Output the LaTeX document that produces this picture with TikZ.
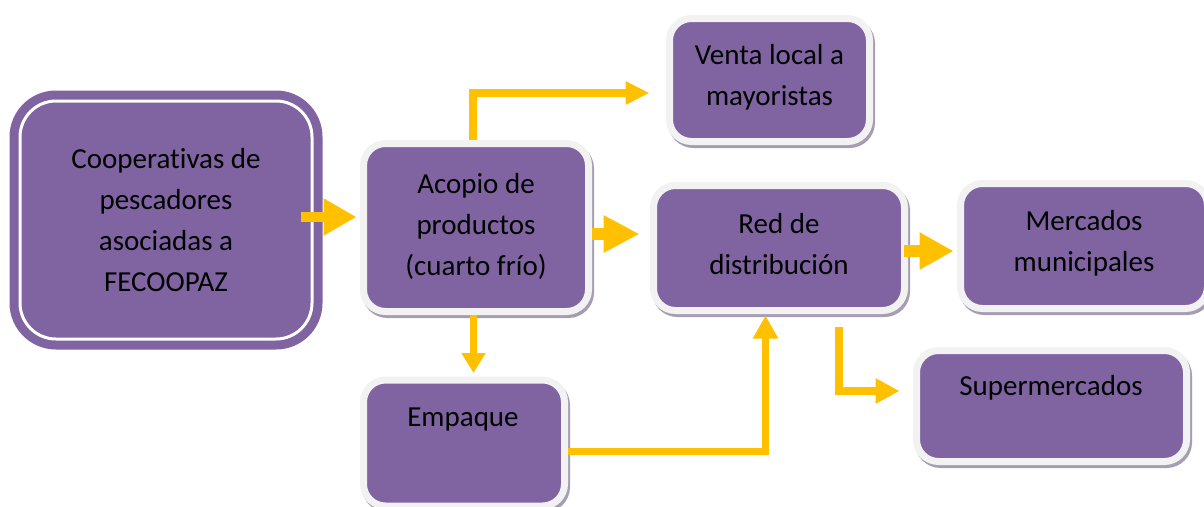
\documentclass[tikz,border=0pt]{standalone}
\usepackage{fontspec}
\setmainfont{Carlito}[Ligatures={NoCommon}]
\usetikzlibrary{arrows.meta,shadows}
\definecolor{boxpurple}{HTML}{8064A2}
\definecolor{ringgray}{HTML}{F2F2F2}
\definecolor{shadowc}{HTML}{A69DB3}
\definecolor{arrowyel}{HTML}{FFC000}
\tikzset{
  box/.style={fill=boxpurple, draw=ringgray, line width=7pt, rounded corners=22pt,
    inner sep=0pt,
    drop shadow={shadow xshift=2pt, shadow yshift=-3pt, fill=shadowc, draw=shadowc, line width=7pt, opacity=1}},
  txt/.style={align=center, inner sep=0pt, text=black},
  arr/.style={draw=arrowyel, line join=miter},
}
\begin{document}
\begin{tikzpicture}[x=1pt,y=-1pt,font=\fontsize{29pt}{41pt}\selectfont]
\useasboundingbox (0,0) rectangle (1204,506);
% Cooperativas box
\node[fill=boxpurple, draw=white, line width=3pt, rounded corners=36pt,
  preaction={draw=boxpurple, line width=21pt},
  minimum width=292pt, minimum height=238pt, inner sep=0pt, align=center]
  (coop) at (166,220) {Cooperativas de\\pescadores\\asociadas a\\FECOOPAZ};
% other boxes
\node[box, minimum width=225pt, minimum height=168pt] (acopio) at (476,227.5) {};
\node[txt] (acopiotxt) at (476,226) {Acopio de\\productos\\(cuarto frío)};
\node[box, minimum width=200pt, minimum height=123pt] (venta) at (769.5,80) {};
\node[txt] (ventatxt) at (769.5,77) {Venta local a\\mayoristas};
\node[box, minimum width=251pt, minimum height=125pt] (red) at (779,248) {};
\node[txt] (redtxt) at (779,244) {Red de\\distribución};
\node[box, minimum width=247pt, minimum height=125pt] (merc) at (1084,246) {};
\node[txt] (merctxt) at (1084,243) {Mercados\\municipales};
\node[box, minimum width=270pt, minimum height=111pt] (super) at (1051.5,406) {};
\node[txt, anchor=base] (supertxt) at (1051,395) {Supermercados};
\node[box, minimum width=201pt, minimum height=126pt] (emp) at (464,443) {};
\node[txt, anchor=base] (emptxt) at (463,426) {Empaque};
% arrows
\draw[arr, line width=10pt, -{Triangle[width=35pt,length=33pt]}, shorten >=3.5pt]
  (coop.east |- 0,217) ++(-13,0) -- (acopio.west |- 0,217);
\draw[arr, line width=12pt, -{Triangle[width=35pt,length=36pt]}, shorten >=10.5pt]
  (acopio.east |- 0,234) -- (red.west |- 0,234);
\draw[arr, line width=12pt, -{Triangle[width=35pt,length=34pt]}, shorten >=3.5pt]
  (red.east |- 0,251) ++(-4,0) -- (merc.west |- 0,251);
\draw[arr, line width=8pt, -{Triangle[width=22pt,length=24pt]}, shorten >=16.5pt]
  ([xshift=-3pt]acopio.north) |- ([yshift=-13pt]venta.west);
\draw[arr, line width=7pt, -{Triangle[width=23pt,length=20pt]}, shorten >=3.5pt]
  ([xshift=-2.5pt]acopio.south) -- ([xshift=-2.5pt]acopio.south |- emp.north);
\draw[arr, line width=8pt, -{Triangle[width=24pt,length=24pt]}, shorten >=13.5pt]
  ([xshift=60pt,yshift=-12.5pt]red.south) |- ([yshift=15pt]super.west);
\draw[arr, line width=7pt, -{Triangle[width=24pt,length=23pt]}, shorten >=1.5pt]
  ([yshift=-8.5pt]emp.east) -| ([xshift=-13.5pt]red.south);
\end{tikzpicture}
\end{document}
